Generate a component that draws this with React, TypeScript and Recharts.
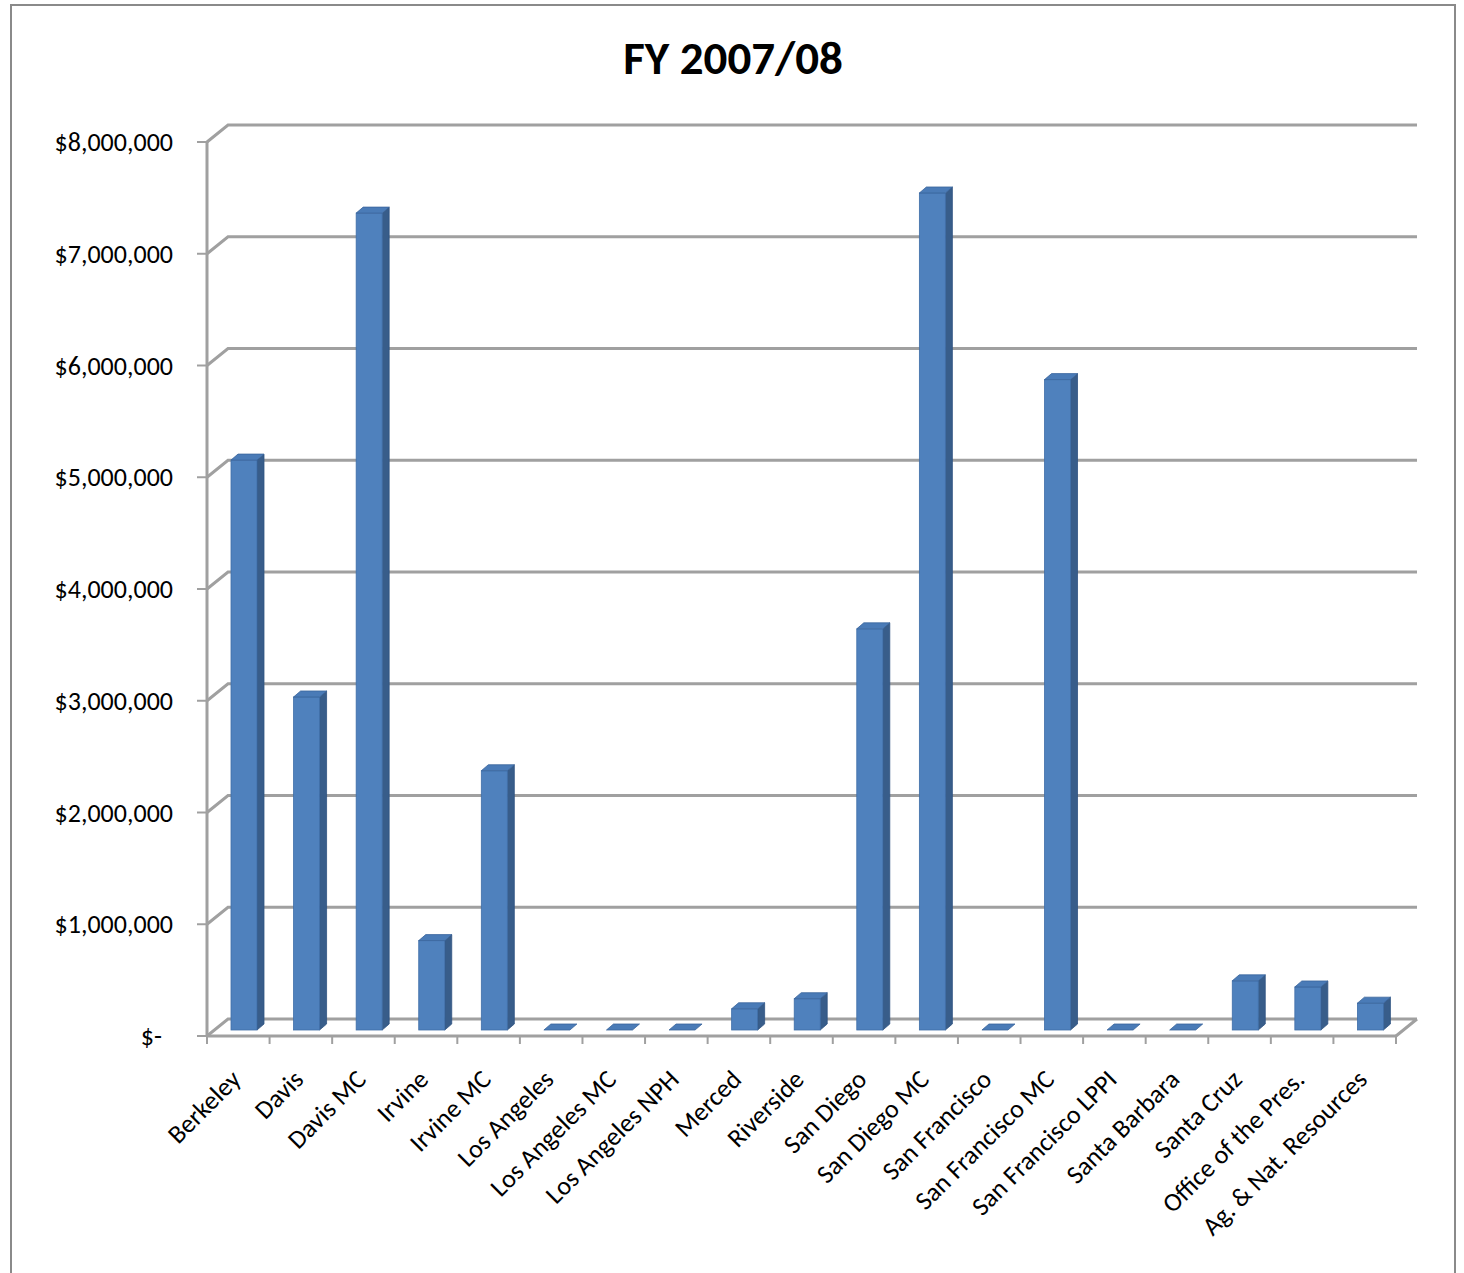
import { BarChart, Bar, XAxis, YAxis, CartesianGrid } from 'recharts';

const campuses = [
  'Berkeley', 'Davis', 'Davis MC', 'Irvine', 'Irvine MC', 'Los Angeles', 'Los Angeles MC',
  'Los Angeles NPH', 'Merced', 'Riverside', 'San Diego', 'San Diego MC', 'San Francisco',
  'San Francisco MC', 'San Francisco LPPI', 'Santa Barbara', 'Santa Cruz', 'Office of the Pres.',
  'Ag. & Nat. Resources',
];

const amounts = [
  5100000, 2980000, 7310000, 800000, 2320000, 0, 0, 0, 190000, 280000, 3590000, 7490000, 0,
  5820000, 0, 0, 440000, 385000, 240000,
];

const yTicks = [0, 1000000, 2000000, 3000000, 4000000, 5000000, 6000000, 7000000, 8000000];

const title = 'FY 2007/08';

const data = campuses.map((name, i) => ({ name, value: amounts[i] }));

// plot box in page pixels
const W = 1464;
const H = 1273;
const LEFT = 207;
const RIGHT = 1396;
const TOP = 142;
const BOTTOM = 1036;
const Y_AXIS_W = 150;
const X_AXIS_H = 100;

// back wall offset
const WALL_DX = 21;
const WALL_DY = 17;

const GRID = '#a0a0a0';
const FONT = 'Carlito, Calibri, Lato, sans-serif';

const band = (RIGHT - LEFT) / campuses.length;

const fmt = (v: number) => '$' + v.toLocaleString('en-US');

const gridLine = (p: any) => {
  const { x1, x2, y1 } = p;
  let d = `M${x1},${y1} L${x1 + WALL_DX},${y1 - WALL_DY} L${x2 + WALL_DX},${y1 - WALL_DY}`;
  if (Math.abs(y1 - BOTTOM) < 2) d += ` M${x2},${y1} L${x2 + WALL_DX},${y1 - WALL_DY}`;
  return <path key={p.key} d={d} fill="none" stroke={GRID} strokeWidth={3} />;
};

const Bar3D = (props: any) => {
  const { x, y, width, height } = props;
  const fx = x + 6;
  const fy = y - 6;
  const h = Math.max(height, 0);
  const dx = 7;
  const dy = 6;
  const top = `M${fx},${fy} L${fx + dx},${fy - dy} L${fx + width + dx},${fy - dy} L${fx + width},${fy} Z`;
  const side = `M${fx + width},${fy} L${fx + width + dx},${fy - dy} L${fx + width + dx},${fy + h - dy} L${fx + width},${fy + h} Z`;
  return (
    <g>
      {h > 0 && <path d={side} fill="#385d8a" stroke="#2f5381" strokeWidth={0.8} />}
      {h > 0 && <rect x={fx} y={fy} width={width} height={h} fill="#4f81bd" stroke="#3f6ea8" strokeWidth={0.8} />}
      <path d={top} fill="#4a7bb7" stroke="#3a659c" strokeWidth={0.8} />
    </g>
  );
};

const YTick = (props: any) => {
  const { y, payload } = props;
  const v = payload.value as number;
  return (
    <text x={v === 0 ? 162 : 173} y={y} textAnchor="end" dominantBaseline="central"
      fontFamily={FONT} fontSize={26} fill="#000">
      {v === 0 ? '$-' : fmt(v)}
    </text>
  );
};

const XTick = (props: any) => {
  const { x, payload, index } = props;
  const lx = x - band / 2;
  const ax = x + 4;
  const ay = 1081;
  return (
    <g>
      <line x1={lx} y1={BOTTOM} x2={lx} y2={BOTTOM + 8} stroke={GRID} strokeWidth={2} />
      {index === campuses.length - 1 && (
        <line x1={x + band / 2} y1={BOTTOM} x2={x + band / 2} y2={BOTTOM + 8} stroke={GRID} strokeWidth={2} />
      )}
      <text x={ax} y={ay} textAnchor="end" transform={`rotate(-45, ${ax}, ${ay})`}
        fontFamily={FONT} fontSize={26} fill="#000">
        {payload.value}
      </text>
    </g>
  );
};

export default function App() {
  return (
    <div style={{ position: 'absolute', left: 0, top: 0, width: W, height: H, overflow: 'hidden', background: '#fff' }}>
      <div style={{
        position: 'absolute', left: 10, top: 4, width: 1446, height: 1320,
        border: '2px solid #8a8a8a', boxSizing: 'border-box',
      }} />
      <div style={{
        position: 'absolute', left: 0, top: 31, width: 1466, textAlign: 'center',
        fontFamily: FONT, fontWeight: 700, fontSize: 47, lineHeight: '54px', color: '#000',
      }}>
        {title}
      </div>
      <div style={{ position: 'absolute', left: 0, top: 0 }}>
        <BarChart
          width={W}
          height={H}
          data={data}
          barSize={26}
          margin={{ top: TOP, right: W - RIGHT, bottom: H - BOTTOM - X_AXIS_H, left: LEFT - Y_AXIS_W }}
        >
          <CartesianGrid vertical={false} horizontal={gridLine} />
          <XAxis
            dataKey="name"
            interval={0}
            height={X_AXIS_H}
            tickLine={false}
            axisLine={{ stroke: GRID, strokeWidth: 3 }}
            tick={<XTick />}
          />
          <YAxis
            width={Y_AXIS_W}
            domain={[0, 8000000]}
            ticks={yTicks}
            tickSize={10}
            axisLine={{ stroke: GRID, strokeWidth: 3 }}
            tickLine={{ stroke: GRID, strokeWidth: 2 }}
            tick={<YTick />}
          />
          <Bar dataKey="value" shape={<Bar3D />} isAnimationActive={false} />
        </BarChart>
      </div>
    </div>
  );
}
